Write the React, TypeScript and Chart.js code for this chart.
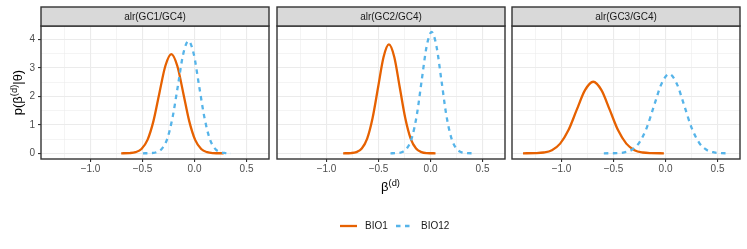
import React, { useEffect, useRef } from 'react';
import { Chart, registerables } from 'chart.js';

Chart.register(...registerables);

// ---------- data ----------
const panelTitles = ['alr(GC1/GC4)', 'alr(GC2/GC4)', 'alr(GC3/GC4)'];
const seriesNames = ['BIO1', 'BIO12'];
const seriesColors = ['#E66101', '#56B4E9'];

const xMajorTicks = [-1, -0.5, 0, 0.5];
const yMajorTicks = [0, 1, 2, 3, 4];
const xLimits = [-1.476, 0.716];
const yLimits = [-0.2, 4.467];

// alr(GC1/GC4)
const gc1Bio1X = [-0.705, -0.624, -0.567, -0.51, -0.452, -0.395, -0.338, -0.28, -0.223, -0.166, -0.108, -0.051, 0.006, 0.064, 0.121, 0.178, 0.28];
const gc1Bio1Y = [0.0, 0.008, 0.039, 0.153, 0.471, 1.13, 2.111, 3.071, 3.48, 3.071, 2.111, 1.13, 0.471, 0.153, 0.039, 0.008, 0.0];
const gc1Bio12X = [-0.496, -0.412, -0.362, -0.311, -0.26, -0.21, -0.159, -0.109, -0.058, -0.007, 0.043, 0.094, 0.144, 0.195, 0.246, 0.296, 0.35];
const gc1Bio12Y = [0.0, 0.009, 0.044, 0.173, 0.533, 1.279, 2.39, 3.477, 3.94, 3.477, 2.39, 1.279, 0.533, 0.173, 0.044, 0.009, 0.0];

// alr(GC2/GC4)
const gc2Bio1X = [-0.84, -0.765, -0.713, -0.661, -0.609, -0.557, -0.504, -0.452, -0.4, -0.348, -0.296, -0.243, -0.191, -0.139, -0.087, -0.035, 0.048];
const gc2Bio1Y = [0.0, 0.008, 0.042, 0.168, 0.517, 1.24, 2.317, 3.371, 3.82, 3.371, 2.317, 1.24, 0.517, 0.168, 0.042, 0.008, 0.0];
const gc2Bio12X = [-0.385, -0.318, -0.271, -0.224, -0.177, -0.13, -0.084, -0.037, 0.01, 0.057, 0.104, 0.15, 0.197, 0.244, 0.291, 0.338, 0.42];
const gc2Bio12Y = [0.0, 0.009, 0.047, 0.187, 0.576, 1.383, 2.584, 3.759, 4.26, 3.759, 2.584, 1.383, 0.576, 0.187, 0.047, 0.009, 0.0];

// alr(GC3/GC4)
const gc3Bio1X = [-1.37, -1.251, -1.172, -1.092, -1.013, -0.933, -0.854, -0.774, -0.695, -0.616, -0.536, -0.457, -0.377, -0.298, -0.218, -0.139, -0.016];
const gc3Bio1Y = [0.0, 0.006, 0.028, 0.11, 0.34, 0.815, 1.522, 2.215, 2.51, 2.215, 1.522, 0.815, 0.34, 0.11, 0.028, 0.006, 0.0];
const gc3Bio12X = [-0.593, -0.467, -0.396, -0.324, -0.252, -0.18, -0.109, -0.037, 0.035, 0.107, 0.179, 0.25, 0.322, 0.394, 0.466, 0.537, 0.615];
const gc3Bio12Y = [0.0, 0.006, 0.031, 0.122, 0.376, 0.903, 1.686, 2.453, 2.78, 2.453, 1.686, 0.903, 0.376, 0.122, 0.031, 0.006, 0.0];

const bio1X = [gc1Bio1X, gc2Bio1X, gc3Bio1X];
const bio1Y = [gc1Bio1Y, gc2Bio1Y, gc3Bio1Y];
const bio12X = [gc1Bio12X, gc2Bio12X, gc3Bio12X];
const bio12Y = [gc1Bio12Y, gc2Bio12Y, gc3Bio12Y];

// ---------- layout ----------
const W = 747;
const H = 249;
const FONT = '"Liberation Sans", Arial, Helvetica, sans-serif';
const panelLefts = [41, 277, 512];
const panelRights = [269, 505, 740];
const panelTop = 26;
const panelBottom = 159;
const stripTop = 7;
const SMALL = 10;
const TITLE = 13;

const isMult = (v: number, step: number) => Math.abs(v / step - Math.round(v / step)) < 1e-6;
const fmtX = (v: number) => {
  const s = Math.abs(v).toFixed(1);
  return v < -1e-9 ? '\u2212' + s : s;
};

function pts(xs: number[], ys: number[]) {
  return xs.map((x, k) => ({ x, y: ys[k] }));
}

function drawSupText(ctx: CanvasRenderingContext2D, base1: string, sup: string, base2: string, cx: number, cy: number) {
  const mainFont = `${TITLE}px ${FONT}`;
  const supFont = `${TITLE * 0.72}px ${FONT}`;
  ctx.font = mainFont;
  const w1 = ctx.measureText(base1).width;
  const w3 = ctx.measureText(base2).width;
  ctx.font = supFont;
  const w2 = ctx.measureText(sup).width;
  const total = w1 + w2 + w3;
  let x = cx - total / 2;
  ctx.textAlign = 'left';
  ctx.textBaseline = 'alphabetic';
  ctx.font = mainFont;
  ctx.fillText(base1, x, cy);
  x += w1;
  ctx.font = supFont;
  ctx.fillText(sup, x, cy - 5.5);
  x += w2;
  ctx.font = mainFont;
  ctx.fillText(base2, x, cy);
}

function panelPlugin(i: number) {
  return {
    id: 'panelDecor' + i,
    afterDraw(chart: any) {
      const ctx: CanvasRenderingContext2D = chart.ctx;
      const a = chart.chartArea;
      ctx.save();
      // panel border
      ctx.strokeStyle = '#333333';
      ctx.lineWidth = 1.4;
      ctx.strokeRect(a.left, a.top, a.right - a.left, a.bottom - a.top);
      // strip
      ctx.fillStyle = '#D9D9D9';
      ctx.fillRect(a.left, stripTop, a.right - a.left, a.top - stripTop);
      ctx.strokeRect(a.left, stripTop, a.right - a.left, a.top - stripTop);
      ctx.fillStyle = '#1A1A1A';
      ctx.font = `${SMALL}px ${FONT}`;
      ctx.textAlign = 'center';
      ctx.textBaseline = 'middle';
      ctx.fillText(panelTitles[i], (a.left + a.right) / 2, (stripTop + a.top) / 2 + 0.5);

      if (i === 0) {
        ctx.fillStyle = '#000000';
        // y axis title (rotated)
        ctx.save();
        ctx.translate(22, (panelTop + panelBottom) / 2);
        ctx.rotate(-Math.PI / 2);
        drawSupText(ctx, 'p(\u03B2', '(d)', '|\u03B8)', 0, 0);
        ctx.restore();
        // x axis title
        drawSupText(ctx, '\u03B2', '(d)', '', (panelLefts[0] + panelRights[2]) / 2, 191);

        // legend
        const ly = 226;
        const entries = [
          { x0: 340, tx: 365, dash: [] as number[] },
          { x0: 396, tx: 421, dash: [4.5, 4.5] },
        ];
        entries.forEach((e, k) => {
          ctx.strokeStyle = seriesColors[k];
          ctx.lineWidth = 2.3;
          ctx.setLineDash(e.dash);
          ctx.beginPath();
          ctx.moveTo(e.x0, ly);
          ctx.lineTo(e.x0 + 17, ly);
          ctx.stroke();
          ctx.setLineDash([]);
          ctx.fillStyle = '#1A1A1A';
          ctx.font = `${SMALL}px ${FONT}`;
          ctx.textAlign = 'left';
          ctx.textBaseline = 'middle';
          ctx.fillText(seriesNames[k], e.tx, ly + 0.5);
        });
      }
      ctx.restore();
    },
  };
}

function makeConfig(i: number): any {
  const first = i === 0;
  return {
    type: 'line',
    data: {
      datasets: [
        {
          label: seriesNames[0],
          data: pts(bio1X[i], bio1Y[i]),
          borderColor: seriesColors[0],
          backgroundColor: seriesColors[0],
          borderWidth: 2.3,
          pointRadius: 0,
          fill: false,
          cubicInterpolationMode: 'monotone',
          order: 1,
        },
        {
          label: seriesNames[1],
          data: pts(bio12X[i], bio12Y[i]),
          borderColor: seriesColors[1],
          backgroundColor: seriesColors[1],
          borderWidth: 2.3,
          borderDash: [4.5, 4.5],
          pointRadius: 0,
          fill: false,
          cubicInterpolationMode: 'monotone',
          order: 0,
        },
      ],
    },
    options: {
      responsive: false,
      maintainAspectRatio: false,
      animation: false,
      events: [],
      layout: {
        padding: {
          left: first ? 0 : panelLefts[i],
          right: W - panelRights[i],
          top: panelTop,
          bottom: 0,
        },
      },
      plugins: {
        legend: { display: false },
        tooltip: { enabled: false },
        title: { display: false },
      },
      scales: {
        x: {
          type: 'linear',
          min: xLimits[0],
          max: xLimits[1],
          afterFit: (s: any) => {
            s.height = H - panelBottom;
          },
          border: { display: false },
          grid: {
            color: '#EBEBEB',
            lineWidth: (c: any) => (c.tick && isMult(c.tick.value, 0.5) ? 1.1 : 0.55),
            drawTicks: true,
            tickLength: 3,
            tickWidth: 1.1,
            tickColor: (c: any) => (c.tick && isMult(c.tick.value, 0.5) ? '#333333' : 'rgba(0,0,0,0)'),
          },
          ticks: {
            stepSize: 0.25,
            autoSkip: false,
            maxRotation: 0,
            minRotation: 0,
            includeBounds: false,
            padding: 1,
            color: '#4D4D4D',
            font: { family: FONT, size: SMALL },
            callback: (v: number) => (xMajorTicks.some((m) => Math.abs(m - v) < 1e-6) ? fmtX(v) : ''),
          },
        },
        y: {
          type: 'linear',
          min: yLimits[0],
          max: yLimits[1],
          afterFit: (s: any) => {
            s.width = first ? panelLefts[0] : 0;
          },
          border: { display: false },
          grid: {
            color: '#EBEBEB',
            lineWidth: (c: any) => (c.tick && isMult(c.tick.value, 1) ? 1.1 : 0.55),
            drawTicks: first,
            tickLength: 3,
            tickWidth: 1.1,
            tickColor: (c: any) => (c.tick && isMult(c.tick.value, 1) ? '#333333' : 'rgba(0,0,0,0)'),
          },
          ticks: {
            display: first,
            stepSize: 0.5,
            autoSkip: false,
            includeBounds: false,
            padding: 3,
            color: '#4D4D4D',
            font: { family: FONT, size: SMALL },
            callback: (v: number) => (yMajorTicks.some((m) => Math.abs(m - v) < 1e-6) ? String(v) : ''),
          },
        },
      },
    },
    plugins: [panelPlugin(i)],
  };
}

function PanelCanvas({ index }: { index: number }) {
  const ref = useRef<HTMLCanvasElement | null>(null);
  useEffect(() => {
    if (!ref.current) return;
    const chart = new Chart(ref.current, makeConfig(index));
    return () => chart.destroy();
  }, [index]);
  return (
    <canvas
      ref={ref}
      width={W}
      height={H}
      style={{ position: 'absolute', left: 0, top: 0, width: W, height: H }}
    />
  );
}

export default function App() {
  return (
    <div style={{ position: 'absolute', left: 0, top: 0, width: W, height: H, background: '#FFFFFF', overflow: 'hidden' }}>
      {panelTitles.map((_, i) => (
        <PanelCanvas key={i} index={i} />
      ))}
    </div>
  );
}
